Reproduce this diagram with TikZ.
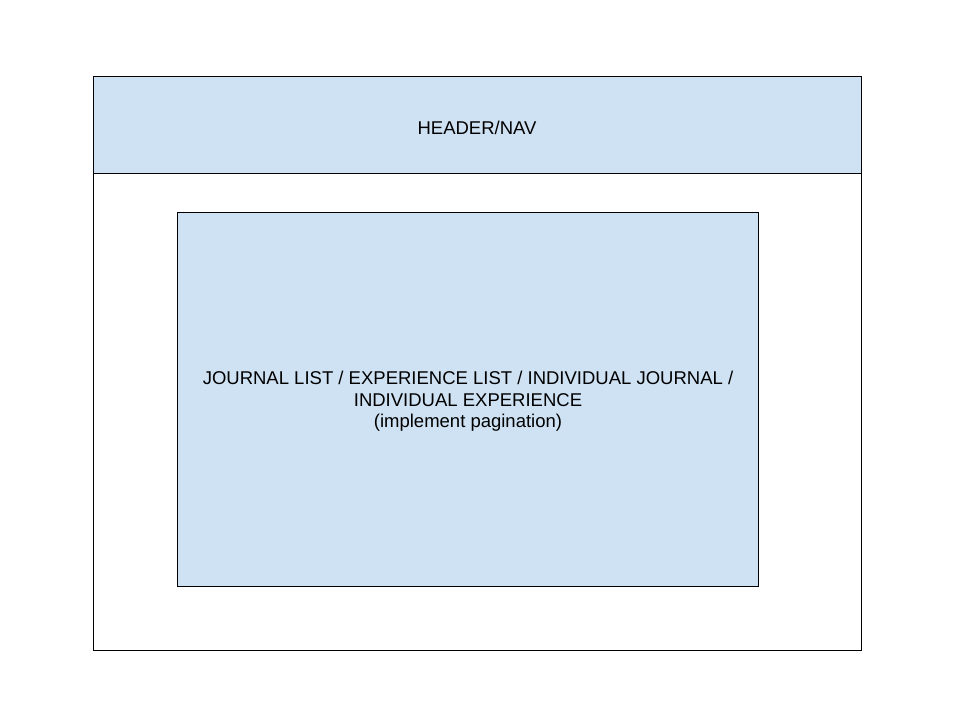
\documentclass[tikz,border=0pt]{standalone}
\usepackage{fontspec}
\setmainfont{Liberation Sans}
\definecolor{panelblue}{HTML}{CFE2F3}
\begin{document}
\begin{tikzpicture}[x=1pt,y=-1pt,
  frame/.style={draw=black,line width=1pt},
  panel/.style={frame,fill=panelblue},
  label/.style={font=\fontsize{18.5}{21.5}\selectfont,align=center,inner sep=0pt}]
  \useasboundingbox[fill=white] (0,0) rectangle (960,720);
  % page outline
  \draw[frame] (93.5,76.5) rectangle (861.5,650.5);
  % header bar
  \draw[panel] (93.5,76.5) rectangle (861.5,173.5);
  \node[label] (head) at (477,127.5) {HEADER/NAV};
  % main content area
  \draw[panel] (177.5,212.5) rectangle (758.5,586.5);
  \node[label] (body) at (468,401.5) {JOURNAL LIST / EXPERIENCE LIST / INDIVIDUAL JOURNAL /\\INDIVIDUAL EXPERIENCE\\(implement pagination)};
\end{tikzpicture}
\end{document}
